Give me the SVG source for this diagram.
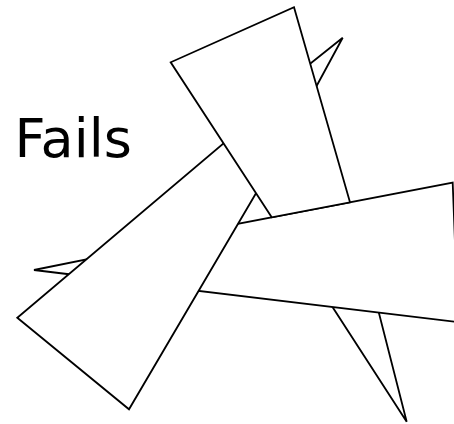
<svg xmlns="http://www.w3.org/2000/svg" width="454" height="424" viewBox="0 0 454 424">
  <style>
    .shape { fill: #ffffff; stroke: #000000; stroke-width: 1.8; stroke-linejoin: miter; }
    .label { font-family: "DejaVu Sans", Verdana, sans-serif; font-size: 54px; fill: #000000; }
  </style>
  <rect x="0" y="0" width="454" height="424" fill="#ffffff"/>
  <g id="star">
    <polygon class="shape" points="342.7,37.7 290,79.9 260,160 110,254.6 34,270 100,278 310,272.2 406.7,421.7 365.4,260 330,230 303.6,110"/>
  </g>
  <g id="shapeC">
    <polygon class="shape" points="452.7,182.7 458,322.2 170,287.5 200,231"/>
  </g>
  <g id="shapeB">
    <polygon class="shape" points="17.3,317.7 129,409.3 256,193.3 251.1,120"/>
  </g>
  <g id="shapeA">
    <path class="shape" d="M271.7,217.3 L170.7,62.3 L294,7.3 L350,202.3 Z"/>
  </g>
  <text class="label" x="14.5" y="156.8">Fails</text>
</svg>
